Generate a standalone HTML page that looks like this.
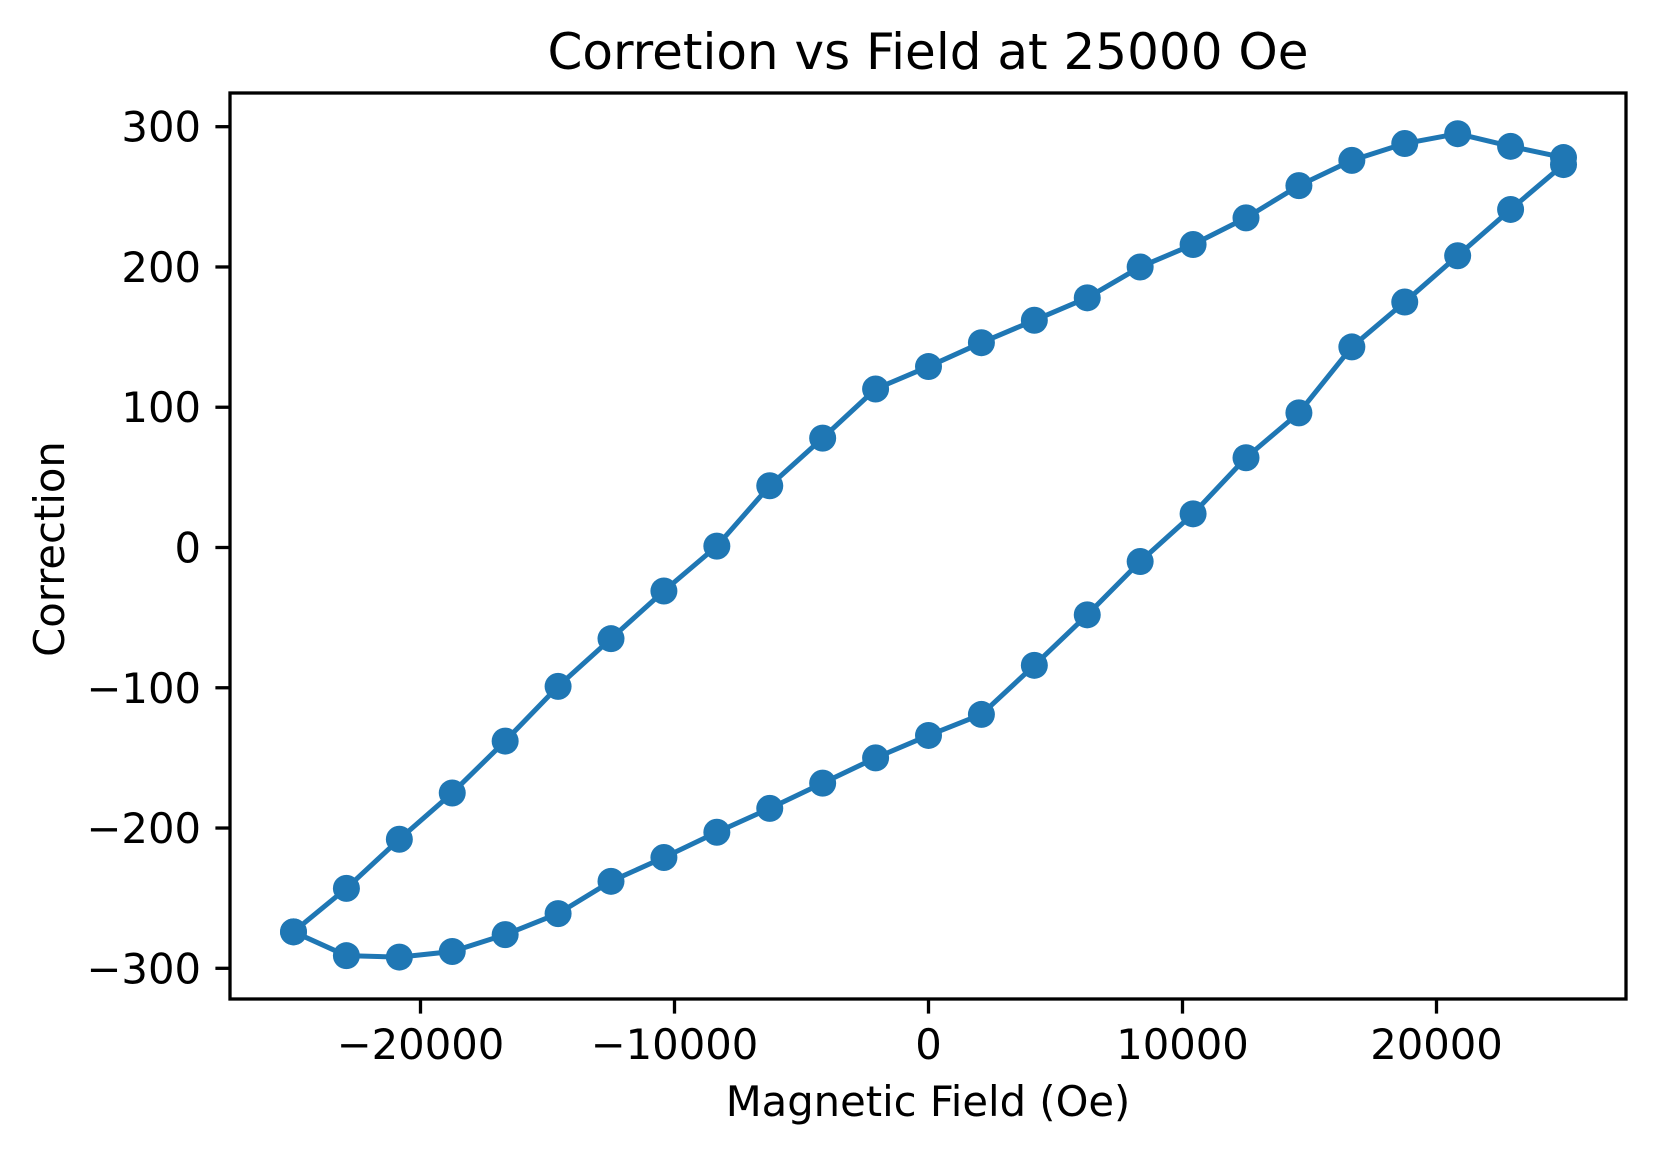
<!DOCTYPE html>
<html><head><meta charset="utf-8"><style>
html,body{margin:0;padding:0;background:#fff;}
svg{display:block;font-family:"DejaVu Sans","Liberation Sans",sans-serif;}
</style></head><body>
<svg id="chart" width="1655" height="1154" viewBox="0 0 1655 1154">
<rect x="0" y="0" width="1655" height="1154" fill="#fff"/>
<g id="plot"></g>
</svg>
<script>
const xValues = [-25000,-22917,-20833,-18750,-16667,-14583,-12500,-10417,-8333,-6250,-4167,-2083,0,2083,4167,6250,8333,10417,12500,14583,16667,18750,20833,22917,25000];
const lowerBranch = [-274,-291,-292,-288,-276,-261,-238,-221,-203,-186,-168,-150,-134,-119,-84,-48,-10,24,64,96,143,175,208,241,273];
const upperBranch = [-274,-243,-208,-175,-138,-99,-65,-31,1,44,78,113,129,146,162,178,200,216,235,258,276,288,295,286,278];
const xTicks = [-20000,-10000,0,10000,20000];
const xTickLabels = ["\u221220000","\u221210000","0","10000","20000"];
const yTicks = [-300,-200,-100,0,100,200,300];
const yTickLabels = ["\u2212300","\u2212200","\u2212100","0","100","200","300"];

const L=230,R=1626,T=93,B=999;
const X=v=>928.5+v*(1435-927)/20000;
const Y=v=>547.5-v*(546.5-125.7)/300;
const NS="http://www.w3.org/2000/svg";
const g=document.getElementById('plot');
function mk(tag,attrs,parent){const e=document.createElementNS(NS,tag);for(const k in attrs)e.setAttribute(k,attrs[k]);(parent||g).appendChild(e);return e;}

const pts=[];
xValues.forEach((x,i)=>pts.push([X(x),Y(lowerBranch[i])]));
for(let i=xValues.length-1;i>=0;i--)pts.push([X(xValues[i]),Y(upperBranch[i])]);
const line=mk('polyline',{points:pts.map(p=>p.join(',')).join(' '),fill:'none',stroke:'#1f77b4','stroke-width':5,'stroke-linejoin':'round'});


pts.forEach(p=>{
  const c=mk('circle',{cx:p[0],cy:p[1],r:13.5,fill:'#1f77b4'});
  
  
});

const fr=mk('rect',{x:L,y:T,width:R-L,height:B-T,fill:'none',stroke:'#000','stroke-width':3.3});



xTicks.forEach((t,i)=>{
  const x=X(t);
  const tk=mk('line',{x1:x,y1:B,x2:x,y2:B+14.6,stroke:'#000','stroke-width':3.3});
  
  
  const tx=mk('text',{x:x,y:B+60,'font-size':41.7,'text-anchor':'middle',fill:'#000'});
  tx.textContent=xTickLabels[i];
  
  
});
yTicks.forEach((t,i)=>{
  const y=Y(t);
  const tk=mk('line',{x1:L-14.6,y1:y,x2:L,y2:y,stroke:'#000','stroke-width':3.3});
  
  
  const tx=mk('text',{x:L-29,y:y+15,'font-size':41.7,'text-anchor':'end',fill:'#000'});
  tx.textContent=yTickLabels[i];
  
  
});
const title=mk('text',{x:(L+R)/2,y:69,'font-size':50,'text-anchor':'middle',fill:'#000'});
title.textContent='Corretion vs Field at 25000 Oe';


const xl=mk('text',{x:(L+R)/2,y:1116,'font-size':41.7,'text-anchor':'middle',fill:'#000'});
xl.textContent='Magnetic Field (Oe)';


const yl=mk('text',{x:0,y:0,'font-size':41.7,'text-anchor':'middle',fill:'#000',transform:`translate(64,${(T+B)/2+3}) rotate(-90)`});
yl.textContent='Correction';


</script>
</body></html>
